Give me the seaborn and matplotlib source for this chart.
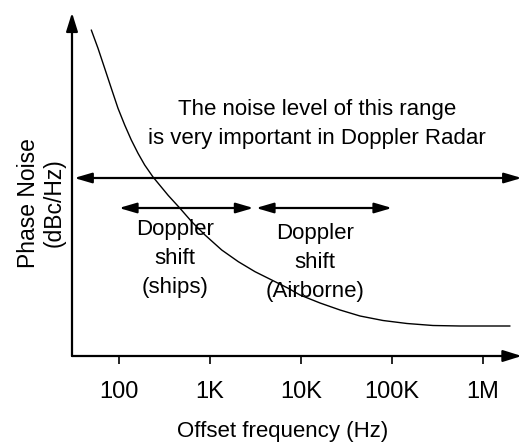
import matplotlib
matplotlib.use("Agg")
import matplotlib.pyplot as plt
from matplotlib.ticker import NullLocator, FixedLocator, FixedFormatter
import seaborn as sns

# ---- data ----
offset_freq_hz = [49.6, 58.8, 69.6, 82.3, 97.5, 115.5, 136.5, 161.8, 191.5, 236.4,
                  348, 468, 629, 881, 1345, 2048, 3124, 4764, 7250, 9750,
                  16180, 26850, 44500, 79600, 146000, 282000, 559000, 1980000]
noise_level = [326, 307.7, 287.7, 267.7, 247.7, 231, 216, 202.7, 191, 179,
               160.5, 147.7, 134.3, 121, 106, 94.3, 84.3, 76, 67.7, 61,
               53, 46, 40, 35.5, 32.5, 30.5, 30, 30]

tick_values = [100, 1000, 10000, 100000, 1000000]
tick_labels = ["100", "1K", "10K", "100K", "1M"]

range_level = 178           # level of the long double arrow
doppler_level = 148         # level of the two short arrows
ships_range = [100, 3000]
airborne_range = [3200, 100000]

sns.set_theme(style="white")
plt.rcParams["font.family"] = ["Liberation Sans", "DejaVu Sans"]

W, H = 529, 446
fig = plt.figure(figsize=(W / 100, H / 100), dpi=100)
ax = fig.add_axes([72 / W, (H - 356) / H, (521.7 - 72) / W, (356 - 12.7) / H])

sns.lineplot(x=offset_freq_hz, y=noise_level, ax=ax, color="black",
             linewidth=1.0, sort=True)

ax.set_xscale("log")
ax.set_xlim(10 ** 1.4835, 10 ** 6.425)
ax.set_ylim(0, 343.3)
ax.xaxis.set_major_locator(FixedLocator(tick_values))
ax.xaxis.set_major_formatter(FixedFormatter(tick_labels))
ax.xaxis.set_minor_locator(NullLocator())
ax.set_yticks([])
for s in ax.spines.values():
    s.set_visible(False)
ax.tick_params(axis="x", which="major", direction="out", length=6, width=1.2,
               color="black", pad=12, labelsize=17, labelcolor="black",
               bottom=True)

# axis arrows
axis_arrow = dict(arrowstyle="-|>,head_length=0.8,head_width=0.25",
                  mutation_scale=14, lw=1.6, color="black",
                  shrinkA=0, shrinkB=0)
ax.annotate("", xy=(1, 0), xytext=(0, 0), xycoords="axes fraction",
            arrowprops=axis_arrow, annotation_clip=False)
ax.annotate("", xy=(0, 1), xytext=(0, 0), xycoords="axes fraction",
            arrowprops=axis_arrow, annotation_clip=False)

# long double arrow across range
dbl = dict(arrowstyle="<|-|>,head_length=0.75,head_width=0.22",
           mutation_scale=14, lw=1.6, color="black", shrinkA=0, shrinkB=0)
ax.annotate("", xy=(1.0, range_level), xytext=(0.005, range_level),
            xycoords=("axes fraction", "data"), arrowprops=dbl,
            annotation_clip=False)

# doppler arrows
ax.annotate("", xy=(ships_range[1], doppler_level),
            xytext=(ships_range[0], doppler_level), xycoords="data",
            arrowprops=dbl)
ax.annotate("", xy=(airborne_range[1], doppler_level),
            xytext=(airborne_range[0], doppler_level), xycoords="data",
            arrowprops=dbl)

# texts
ax.text(15000, 232, "The noise level of this range\nis very important in Doppler Radar",
        ha="center", va="center", fontsize=16, linespacing=1.5, color="black")
ax.text(412, 98, "Doppler\nshift\n(ships)", ha="center", va="center",
        fontsize=16, linespacing=1.5, color="black")
ax.text(14300, 94, "Doppler\nshift\n(Airborne)", ha="center", va="center",
        fontsize=16, linespacing=1.5, color="black")

ax.set_xlabel("Offset frequency (Hz)", fontsize=16, color="black")
ax.xaxis.set_label_coords(0.469, -0.221)
ax.xaxis.label.set_va("center")
ax.set_ylabel("Phase Noise\n(dBc/Hz)", fontsize=16.5, color="black",
              linespacing=1.15)
ax.yaxis.set_label_coords(-0.068, 0.446)
ax.yaxis.label.set_va("center")

fig.savefig("out.png", dpi=100, facecolor="white")
